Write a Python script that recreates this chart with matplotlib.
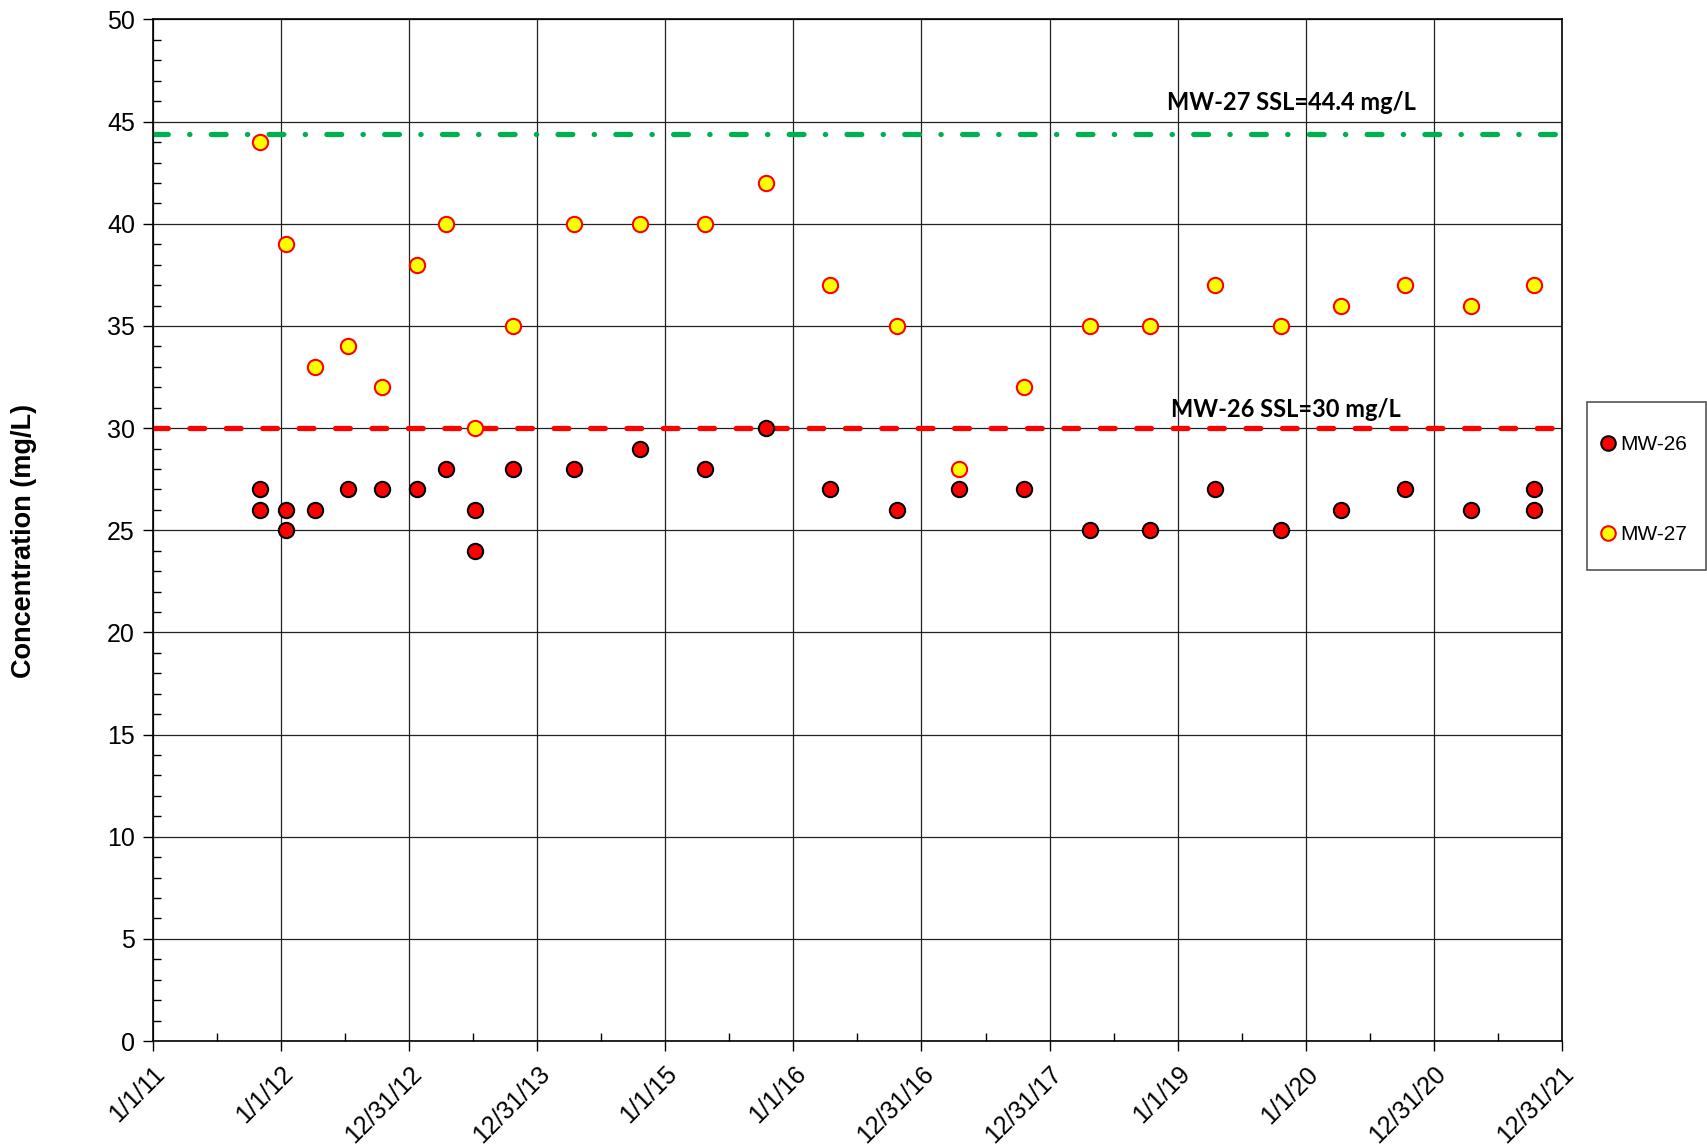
import numpy as np
import pandas as pd
import matplotlib
matplotlib.use("Agg")
from matplotlib import pyplot as plt
import matplotlib.dates as mdates
from matplotlib.patches import Rectangle

# sample dates and concentrations (mg/L)
mw26_dates = ["2011-11-01", "2011-11-01", "2012-01-15", "2012-01-15", "2012-04-08",
              "2012-07-10", "2012-10-14", "2013-01-22", "2013-04-15", "2013-07-08",
              "2013-07-08", "2013-10-25", "2014-04-17", "2014-10-20", "2015-04-25",
              "2015-10-16", "2016-04-16", "2016-10-22", "2017-04-17", "2017-10-21",
              "2018-04-25", "2018-10-13", "2019-04-17", "2019-10-24", "2020-04-11",
              "2020-10-09", "2021-04-16", "2021-10-13", "2021-10-13"]
mw26_vals = [27, 26, 26, 25, 26,
             27, 27, 27, 28, 26,
             24, 28, 28, 29, 28,
             30, 27, 26, 27, 27,
             25, 25, 27, 25, 26,
             27, 26, 27, 26]

mw27_dates = ["2011-11-01", "2012-01-15", "2012-04-08", "2012-07-10", "2012-10-14",
              "2013-01-22", "2013-04-15", "2013-07-08", "2013-10-25", "2014-04-17",
              "2014-10-20", "2015-04-25", "2015-10-16", "2016-04-16", "2016-10-22",
              "2017-04-17", "2017-10-21", "2018-04-25", "2018-10-13", "2019-04-17",
              "2019-10-24", "2020-04-11", "2020-10-09", "2021-04-16", "2021-10-13"]
mw27_vals = [44, 39, 33, 34, 32,
             38, 40, 30, 35, 40,
             40, 40, 42, 37, 35,
             28, 32, 35, 35, 37,
             35, 36, 37, 36, 37]

mw26_ssl = 30.0
mw27_ssl = 44.4

axis_start = "2011-01-01"
tick_labels = ["1/1/11", "1/1/12", "12/31/12", "12/31/13", "1/1/15", "1/1/16",
               "12/31/16", "12/31/17", "1/1/19", "1/1/20", "12/31/20", "12/31/21"]

x26 = mdates.date2num(pd.to_datetime(mw26_dates))
x27 = mdates.date2num(pd.to_datetime(mw27_dates))
x0 = mdates.date2num(pd.Timestamp(axis_start))
major = x0 + 365.25 * np.arange(len(tick_labels))
minor = x0 + 365.25 * (np.arange(len(tick_labels) - 1) + 0.5)

W, H = 1707, 1147
fig = plt.figure(figsize=(W / 100, H / 100), dpi=100)
ax = fig.add_axes([0.0896, 0.0924, 0.8254, 0.8906])

ax.axhline(mw27_ssl, color="#00B050", lw=3.8, dash_capstyle="round",
           linestyle=(0, (2.8, 4.05, 0.05, 4.05)), zorder=2)
ax.axhline(mw26_ssl, color="#FF0000", lw=3.8, dash_capstyle="round",
           linestyle=(0, (2.8, 4.1)), zorder=2)

ax.plot(x26, mw26_vals, "o", ms=11, mfc="#FF0000", mec="black", mew=1.5,
        label="MW-26", zorder=4)
ax.plot(x27, mw27_vals, "o", ms=11, mfc="#FFFF00", mec="#FF0000", mew=1.5,
        label="MW-27", zorder=3)

ax.set_xlim(major[0], major[-1])
ax.set_ylim(0, 50)
ax.set_xticks(major)
ax.set_xticklabels(tick_labels, rotation=45, ha="right", va="top",
                   rotation_mode="anchor", fontsize=18, family="Liberation Sans")
ax.set_xticks(minor, minor=True)
ax.set_yticks(np.arange(0, 51, 5))
ax.set_yticks(np.arange(0, 51, 1), minor=True)
for lab in ax.get_yticklabels():
    lab.set_fontsize(18)
    lab.set_family("Liberation Sans")

ax.tick_params(which="major", direction="out", length=7, width=1, color="black", pad=8)
ax.tick_params(axis="y", which="major", pad=6)
ax.tick_params(which="minor", direction="in", length=6, width=1, color="black")
ax.grid(True, which="major", color="#222222", lw=0.9, zorder=0)
ax.set_axisbelow(True)
for s in ax.spines.values():
    s.set_color("black")
    s.set_linewidth(1.2)

ax.set_ylabel("Concentration (mg/L)", fontsize=19.5, fontweight="bold",
              family="Liberation Sans")
ax.yaxis.set_label_coords(-0.082, 0.49)

ax.text(0.808, 0.919, "MW-27 SSL=44.4 mg/L", transform=ax.transAxes,
        ha="center", va="center", fontsize=17, fontweight="bold", family="Lato")
ax.text(0.804, 0.618, "MW-26 SSL=30 mg/L", transform=ax.transAxes,
        ha="center", va="center", fontsize=17, fontweight="bold", family="Lato")

# legend box drawn separately, entries placed inside it
fig.patches.append(Rectangle((1587 / W, 1 - 570 / H), 119 / W, 168 / H,
                             transform=fig.transFigure, fill=False,
                             edgecolor="#555555", lw=1.2))
leg = fig.legend(loc="upper left", bbox_to_anchor=(1601 / W, 1 - 435 / H),
                 borderaxespad=0, borderpad=0, frameon=False,
                 prop={"family": "Liberation Sans", "size": 15},
                 handlelength=0.7, handletextpad=0.2,
                 labelspacing=3.42, markerscale=0.95)

fig.savefig("out.png", dpi=100)
